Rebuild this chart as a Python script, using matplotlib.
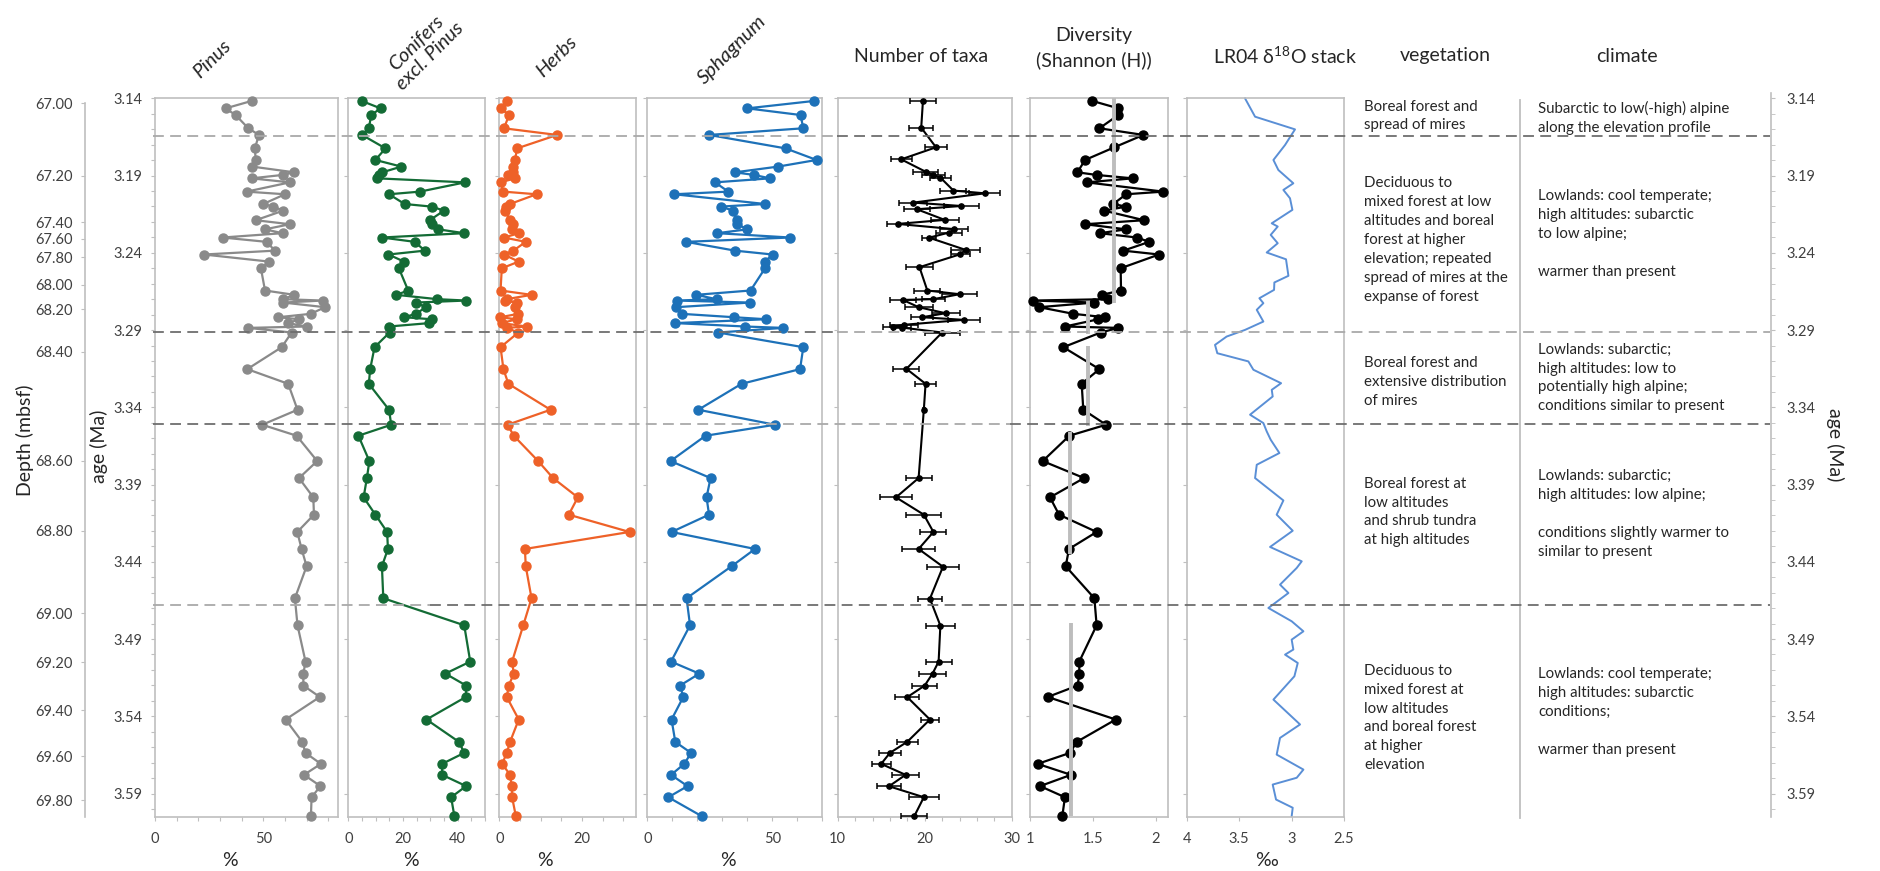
import matplotlib
matplotlib.use('Agg')
import matplotlib.pyplot as plt
import matplotlib.transforms as mtransforms
from matplotlib.lines import Line2D
from matplotlib.ticker import FixedLocator, MultipleLocator, FuncFormatter, NullLocator

plt.rcParams['font.family'] = ['Lato', 'DejaVu Sans']
plt.rcParams['mathtext.default'] = 'regular'

# ---------------- data (age in Ma) ----------------
age_pollen = [3.1417, 3.1465, 3.1508, 3.1594, 3.1637, 3.1724, 3.1799, 3.1842, 3.1879, 3.1896,
              3.1918, 3.1944, 3.2004, 3.2021, 3.2084, 3.2101, 3.2127, 3.2189, 3.2215, 3.2248,
              3.2273, 3.2301, 3.2329, 3.2386, 3.2411, 3.2457, 3.2500, 3.2644, 3.2672, 3.2700,
              3.2709, 3.2722, 3.2752, 3.2795, 3.2817, 3.2830, 3.2855, 3.2877, 3.2886, 3.2916,
              3.3011, 3.3153, 3.3248, 3.3416, 3.3513, 3.3584, 3.3748, 3.3858, 3.3983, 3.4095,
              3.4207, 3.4317, 3.4429, 3.4636, 3.4811, 3.5046, 3.5124, 3.5201, 3.5275, 3.5421,
              3.5566, 3.5637, 3.5708, 3.5779, 3.5852, 3.5924, 3.6046]

pinus = [44.6, 32.6, 37.2, 43.1, 48.0, 46.1, 46.5, 44.9, 64.3, 58.9,
         44.6, 62.3, 42.3, 60.0, 50.0, 54.6, 59.2, 46.5, 62.3, 50.8,
         58.9, 31.2, 51.5, 55.4, 22.6, 52.8, 48.9, 50.8, 64.3, 59.2,
         77.4, 59.2, 78.5, 71.9, 56.9, 66.6, 61.5, 70.0, 43.1, 63.1,
         58.5, 42.6, 61.5, 65.8, 49.5, 65.4, 74.9, 66.5, 73.1, 73.4,
         65.7, 67.7, 70.0, 64.6, 65.8, 69.5, 68.5, 68.5, 76.1, 60.3,
         68.0, 69.5, 76.6, 68.8, 76.4, 72.3, 72.0]

conifers = [4.9, 11.8, 8.4, 7.5, 5.0, 13.6, 9.9, 19.4, 12.4, 11.4,
            10.6, 42.7, 26.2, 14.9, 20.6, 30.5, 35.0, 29.8, 30.7, 32.9,
            42.4, 12.3, 24.3, 28.0, 14.7, 20.4, 18.5, 21.9, 17.6, 32.5,
            43.1, 24.7, 28.4, 24.7, 20.4, 30.5, 29.6, 14.9, 15.1, 15.1,
            9.6, 8.0, 7.5, 14.9, 15.7, 3.7, 7.7, 6.8, 5.6, 9.9,
            14.2, 14.5, 12.3, 12.8, 42.4, 44.6, 35.5, 43.1, 43.0, 28.6,
            40.5, 42.4, 34.3, 34.3, 43.1, 37.6, 38.8]

herbs = [1.8, 0.3, 2.4, 1.1, 14.0, 4.3, 3.8, 3.4, 3.4, 2.2,
         3.8, 0.3, 1.0, 9.0, 2.6, 1.6, 1.4, 2.6, 3.4, 3.0,
         4.8, 1.1, 6.4, 3.4, 1.1, 4.7, 0.6, 0.3, 7.8, 1.8,
         1.4, 4.2, 3.8, 4.6, 0.2, 4.2, 0.6, 6.6, 1.8, 4.6,
         0.3, 1.0, 2.2, 12.4, 2.0, 3.5, 9.4, 13.0, 19.0, 16.8,
         31.5, 6.2, 6.4, 7.8, 5.8, 3.1, 3.5, 2.3, 1.8, 4.7,
         2.6, 1.8, 0.7, 2.6, 3.0, 3.1, 4.0]

sphagnum = [66.7, 40.0, 61.3, 62.4, 24.7, 55.3, 67.7, 52.3, 35.1, 42.7,
            49.1, 27.1, 32.4, 10.8, 47.1, 29.3, 34.4, 35.7, 36.0, 40.0,
            28.0, 57.1, 15.5, 35.1, 50.1, 47.1, 47.1, 41.3, 19.5, 27.7,
            11.7, 41.1, 11.5, 13.7, 34.7, 47.5, 11.1, 39.1, 54.4, 28.4,
            62.4, 61.1, 37.7, 20.4, 51.1, 23.3, 9.3, 25.3, 23.7, 24.7,
            9.7, 43.1, 33.7, 15.7, 17.1, 9.5, 20.8, 13.1, 14.4, 9.7,
            11.2, 17.5, 14.8, 9.5, 16.1, 8.4, 21.7]

age_taxa = [3.1415, 3.1590, 3.1717, 3.1795, 3.1875, 3.1896, 3.1913, 3.1997, 3.2015, 3.2075,
            3.2097, 3.2118, 3.2187, 3.2213, 3.2247, 3.2269, 3.2302, 3.2381, 3.2409, 3.2493,
            3.2644, 3.2668, 3.2700, 3.2705, 3.2752, 3.2791, 3.2817, 3.2834, 3.2866, 3.2877,
            3.2884, 3.2916, 3.3151, 3.3248, 3.3416, 3.3858, 3.3983, 3.4095, 3.4207, 3.4317,
            3.4432, 3.4639, 3.4813, 3.5046, 3.5124, 3.5201, 3.5276, 3.5421, 3.5565, 3.5637,
            3.5708, 3.5779, 3.5853, 3.5924, 3.6047]
taxa = [19.8, 19.6, 21.3, 17.3, 20.1, 21.0, 21.8, 23.3, 26.9, 18.7,
        24.2, 19.1, 22.3, 16.9, 23.4, 22.8, 20.5, 24.7, 24.1, 19.4,
        20.3, 24.0, 21.0, 17.5, 19.3, 22.4, 19.7, 24.5, 17.6, 16.4,
        17.4, 22.0, 17.9, 20.1, 19.9, 19.3, 16.7, 19.9, 21.0, 19.3,
        22.1, 20.6, 21.8, 21.6, 20.9, 20.0, 18.0, 20.6, 18.0, 16.0,
        15.0, 17.8, 15.9, 19.9, 18.8]
taxa_err = [1.5, 1.4, 1.3, 1.2, 1.4, 1.3, 1.2, 1.5, 1.8, 1.6,
            2.0, 1.5, 1.6, 1.2, 1.6, 1.5, 0.8, 1.7, 1.1, 1.5,
            1.5, 2.0, 1.3, 1.5, 1.6, 1.6, 1.3, 1.8, 1.6, 1.2,
            1.0, 2.0, 1.5, 1.2, 0.1, 1.5, 1.8, 2.0, 1.5, 1.9,
            1.8, 1.4, 1.7, 1.5, 1.5, 1.45, 1.4, 1.0, 1.2, 1.3,
            1.1, 1.6, 1.4, 1.7, 1.5]

age_div = [3.1417, 3.1465, 3.1508, 3.1594, 3.1637, 3.1717, 3.1799, 3.1879, 3.1896, 3.1918,
           3.1944, 3.2004, 3.2021, 3.2084, 3.2101, 3.2127, 3.2189, 3.2215, 3.2248, 3.2273,
           3.2301, 3.2329, 3.2386, 3.2411, 3.2500, 3.2644, 3.2672, 3.2700, 3.2709, 3.2722,
           3.2752, 3.2795, 3.2817, 3.2830, 3.2877, 3.2886, 3.2916, 3.3011, 3.3153, 3.3248,
           3.3416, 3.3513, 3.3584, 3.3748, 3.3858, 3.3983, 3.4095, 3.4207, 3.4317, 3.4429,
           3.4636, 3.4811, 3.5046, 3.5124, 3.5201, 3.5275, 3.5421, 3.5566, 3.5637, 3.5708,
           3.5779, 3.5852, 3.5924, 3.6046]
diversity = [1.496, 1.703, 1.703, 1.552, 1.902, 1.671, 1.438, 1.377, 1.530, 1.817,
             1.451, 2.061, 1.764, 1.663, 1.764, 1.589, 1.907, 1.438, 1.764, 1.557,
             1.849, 1.949, 1.743, 2.026, 1.721, 1.724, 1.570, 1.623, 1.027, 1.512,
             1.074, 1.345, 1.597, 1.544, 1.278, 1.703, 1.562, 1.265, 1.552, 1.411,
             1.424, 1.605, 1.313, 1.101, 1.430, 1.159, 1.231, 1.530, 1.310, 1.284,
             1.512, 1.530, 1.392, 1.392, 1.379, 1.141, 1.682, 1.371, 1.318, 1.061,
             1.326, 1.080, 1.278, 1.257]

# zone mean diversity (grey bars)
div_zone_top = [3.1400, 3.2709, 3.3002, 3.3563, 3.4796]
div_zone_bot = [3.2722, 3.2924, 3.3520, 3.4352, 3.6047]
div_zone_mean = [1.67, 1.46, 1.46, 1.32, 1.33]

age_lr04 = [3.1400, 3.1519, 3.1601, 3.1644, 3.1702, 3.1799, 3.1864, 3.1950, 3.1993, 3.2047,
            3.2122, 3.2209, 3.2230, 3.2284, 3.2338, 3.2398, 3.2442, 3.2549, 3.2592, 3.2640,
            3.2694, 3.2726, 3.2769, 3.2845, 3.2899, 3.2942, 3.2996, 3.3050, 3.3103, 3.3157,
            3.3244, 3.3287, 3.3330, 3.3448, 3.3502, 3.3556, 3.3610, 3.3696, 3.3772, 3.3858,
            3.4003, 3.4095, 3.4199, 3.4304, 3.4397, 3.4440, 3.4548, 3.4602, 3.4699, 3.4785,
            3.4850, 3.4904, 3.4968, 3.5001, 3.5055, 3.5141, 3.5292, 3.5453, 3.5540, 3.5648,
            3.5745, 3.5798, 3.5842, 3.5939, 3.5992, 3.6047]
lr04 = [3.444, 3.348, 2.967, 3.008, 3.062, 3.173, 3.126, 2.983, 3.078, 3.015,
        2.992, 3.189, 3.132, 3.199, 3.132, 3.237, 3.053, 3.030, 3.164, 3.167,
        3.307, 3.269, 3.332, 3.269, 3.444, 3.619, 3.730, 3.708, 3.412, 3.364,
        3.100, 3.189, 3.180, 3.396, 3.269, 3.237, 3.199, 3.116, 3.332, 3.348,
        3.078, 3.142, 2.989, 3.205, 2.903, 2.951, 3.110, 3.030, 3.221, 2.999,
        2.887, 2.999, 2.983, 3.062, 2.941, 2.973, 3.173, 2.919, 3.110, 3.142,
        2.887, 2.951, 3.180, 3.148, 2.989, 2.999]

age_ticks = [3.14, 3.19, 3.24, 3.29, 3.34, 3.39, 3.44, 3.49, 3.54, 3.59]
depth_labels = ['67.00', '67.20', '67.40', '67.60', '67.80', '68.00', '68.20', '68.40',
                '68.60', '68.80', '69.00', '69.20', '69.40', '69.60', '69.80']
depth_age = [3.1432, 3.1901, 3.2202, 3.2310, 3.2428, 3.2608, 3.2765, 3.3039,
             3.3746, 3.4199, 3.4734, 3.5051, 3.5361, 3.5659, 3.5943]

zone_bounds = [3.1642, 3.2914, 3.3507, 3.4677]

vegetation = ['Boreal forest and\nspread of mires',
              'Deciduous to\nmixed forest at low\naltitudes and boreal\nforest at higher\n'
              'elevation; repeated\nspread of mires at the\nexpanse of forest',
              'Boreal forest and\nextensive distribution\nof mires',
              'Boreal forest at\nlow altitudes\nand shrub tundra\nat high altitudes',
              'Deciduous to\nmixed forest at\nlow altitudes\nand boreal forest\nat higher\nelevation']
climate = ['Subarctic to low(-high) alpine\nalong the elevation profile',
           'Lowlands: cool temperate;\nhigh altitudes: subarctic\nto low alpine;\n\nwarmer than present',
           'Lowlands: subarctic;\nhigh altitudes: low to\npotentially high alpine;\nconditions similar to present',
           'Lowlands: subarctic;\nhigh altitudes: low alpine;\n\nconditions slightly warmer to\nsimilar to present',
           'Lowlands: cool temperate;\nhigh altitudes: subarctic\nconditions;\n\nwarmer than present']
veg_y = [116, 240, 382, 512, 718]
clim_y = [118, 234, 378, 514, 712]

# ---------------- layout ----------------
W, H = 1881, 871
TOP, BOT = 97.7, 816.7
AGE_TOP, AGE_BOT = 3.1396, 3.6050
FRAME = '#bfbfbf'
TXT = '#404040'

fig = plt.figure(figsize=(W / 100, H / 100), dpi=100)


def fx(px):
    return px / W


def fy(py):
    return 1 - py / H


def panel(x0, x1):
    ax = fig.add_axes([fx(x0), fy(BOT), (x1 - x0) / W, (BOT - TOP) / H])
    ax.set_ylim(AGE_BOT, AGE_TOP)
    for s in ax.spines.values():
        s.set_color(FRAME)
        s.set_linewidth(1.2)
    ax.yaxis.set_major_locator(FixedLocator(age_ticks))
    ax.tick_params(axis='both', which='both', direction='out', length=3, width=0.8,
                   color=FRAME, labelcolor=TXT, labelsize=10.5)
    ax.tick_params(axis='x', pad=8)
    ax.tick_params(axis='y', labelleft=False)
    ax.xaxis.set_major_formatter(FuncFormatter(lambda v, p: '{:g}'.format(v)))
    return ax


def xticks(ax, lim, major, minor=None):
    ax.set_xlim(*lim)
    ax.xaxis.set_major_locator(FixedLocator(major))
    if minor:
        ax.xaxis.set_minor_locator(MultipleLocator(minor))
    else:
        ax.xaxis.set_minor_locator(NullLocator())


ax_pin = panel(155, 338)
ax_con = panel(348.3, 485)
ax_her = panel(499.3, 635.7)
ax_sph = panel(647.3, 822.3)
ax_tax = panel(837.7, 1011.7)
ax_div = panel(1030, 1168.3)
ax_lr = panel(1186.7, 1344)

xticks(ax_pin, (0, 84.5), [0, 50], 10)
xticks(ax_con, (0, 50), [0, 20, 40], 5)
xticks(ax_her, (0, 33), [0, 20], 5)
xticks(ax_sph, (0, 70), [0, 50], 10)
xticks(ax_tax, (10, 30), [10, 20, 30], 2)
xticks(ax_div, (1, 2.1), [1, 1.5, 2])
xticks(ax_lr, (4, 2.5), [4, 3.5, 3, 2.5])

ax_pin.tick_params(axis='y', labelleft=True, pad=6)
ax_pin.yaxis.set_minor_locator(MultipleLocator(0.01))
ax_pin.yaxis.set_major_formatter(FuncFormatter(lambda v, p: '%.2f' % v))

mk = dict(marker='o', lw=1.6, ms=6.5, clip_on=False, zorder=3)
ax_pin.plot(pinus, age_pollen, color='#8a8a8a', **mk)
ax_con.plot(conifers, age_pollen, color='#136b35', **mk)
ax_her.plot(herbs, age_pollen, color='#ee6128', **mk)
ax_sph.plot(sphagnum, age_pollen, color='#1d71b8', **mk)

ax_tax.errorbar(taxa, age_taxa, xerr=taxa_err, fmt='-o', color='black', lw=1.5, ms=3.8,
                elinewidth=1.1, capsize=2.5, capthick=1.1, clip_on=False, zorder=3)

ax_div.plot(diversity, age_div, color='black', **mk)
for top, bot, m in zip(div_zone_top, div_zone_bot, div_zone_mean):
    ax_div.plot([m, m], [top, bot], color='#bdbdbd', lw=2.8, solid_capstyle='butt', zorder=4)

ax_lr.plot(lr04, age_lr04, color='#5a8fd6', lw=1.4, clip_on=False)

# depth axis (left)
ax_d = fig.add_axes([fx(85), fy(BOT), 0.0004, (BOT - TOP) / H])
ax_d.set_ylim(AGE_BOT, AGE_TOP)
for k in ('top', 'right', 'bottom'):
    ax_d.spines[k].set_visible(False)
ax_d.spines['left'].set_color(FRAME)
ax_d.spines['left'].set_linewidth(1.2)
ax_d.spines['left'].set_bounds(depth_age[0], AGE_BOT)
ax_d.set_xticks([])
ax_d.set_yticks(depth_age)
ax_d.set_yticklabels(depth_labels)
ax_d.tick_params(axis='y', direction='out', length=3, color=FRAME, labelcolor=TXT,
                 labelsize=10.5, pad=6)
ax_d.patch.set_visible(False)

# right age axis
ax_r = fig.add_axes([fx(1770), fy(BOT), 0.0004, (BOT - TOP) / H])
ax_r.set_ylim(AGE_BOT, AGE_TOP)
for k in ('top', 'left', 'bottom'):
    ax_r.spines[k].set_visible(False)
ax_r.spines['right'].set_color(FRAME)
ax_r.spines['right'].set_linewidth(1.2)
ax_r.spines['right'].set_bounds(3.1366, AGE_BOT)
ax_r.set_xticks([])
ax_r.yaxis.tick_right()
ax_r.yaxis.set_major_locator(FixedLocator(age_ticks))
ax_r.yaxis.set_minor_locator(MultipleLocator(0.01))
ax_r.yaxis.set_major_formatter(FuncFormatter(lambda v, p: '%.2f' % v))
ax_r.tick_params(axis='y', which='both', direction='out', length=3, color=FRAME,
                 labelcolor=TXT, labelsize=10.5, pad=8)
ax_r.patch.set_visible(False)

# zone boundaries
trans = mtransforms.blended_transform_factory(fig.transFigure, ax_pin.transData)
LIGHT, DARK = '#a9a9a9', '#6e6e6e'
zone_segments = [[(153, 837, LIGHT), (837, 1770, DARK)],
                 [(153, 837, DARK), (837, 1770, LIGHT)],
                 [(153, 440, DARK), (440, 1010, LIGHT), (1010, 1770, DARK)],
                 [(153, 430, LIGHT), (430, 1770, DARK)]]
for a, segs in zip(zone_bounds, zone_segments):
    for x0, x1, c in segs:
        fig.add_artist(Line2D([fx(x0), fx(x1)], [a, a], transform=trans, color=c,
                              lw=1.3, dashes=(6, 3.5), zorder=5))

# column separator
fig.add_artist(Line2D([fx(1520), fx(1520)], [fy(100), fy(818)], color=FRAME, lw=1.3))

# text columns
for t, yy in zip(vegetation, veg_y):
    fig.text(fx(1364), fy(yy), t, ha='left', va='center', fontsize=10.8, color='#262626',
             linespacing=1.45)
for t, yy in zip(climate, clim_y):
    fig.text(fx(1538), fy(yy), t, ha='left', va='center', fontsize=10.8, color='#262626',
             linespacing=1.45)

# headers
hd = dict(fontsize=14, color='#262626', ha='center', va='center')
rot = dict(fontsize=14.5, color='#262626', ha='center', va='center', rotation=45,
           rotation_mode='anchor', style='italic')
fig.text(fx(212), fy(59), 'Pinus', **rot)
fig.text(fx(423), fy(50), 'Conifers\nexcl. Pinus', linespacing=1.15, **rot)
fig.text(fx(557), fy(57), 'Herbs', **rot)
fig.text(fx(732), fy(50), 'Sphagnum', **rot)
fig.text(fx(921), fy(56), 'Number of taxa', **hd)
fig.text(fx(1094), fy(48), 'Diversity\n(Shannon (H))', linespacing=1.45, **hd)
fig.text(fx(1285), fy(56), 'LR04 δ$^{18}$O stack', **hd)
fig.text(fx(1445), fy(56), 'vegetation', **hd)
fig.text(fx(1627), fy(56), 'climate', **hd)

# axis labels
lab = dict(fontsize=14, color='#262626', ha='center', va='center')
for xx in (230, 411, 545, 728):
    fig.text(fx(xx), fy(860), '%', **lab)
fig.text(fx(1266), fy(860), '‰', **lab)
fig.text(fx(25), fy(440), 'Depth (mbsf)', rotation=90, **lab)
fig.text(fx(99), fy(446), 'age (Ma)', rotation=90, **lab)
fig.text(fx(1835), fy(445), 'age (Ma)', rotation=270, **lab)

fig.savefig('out.png', dpi=100)
